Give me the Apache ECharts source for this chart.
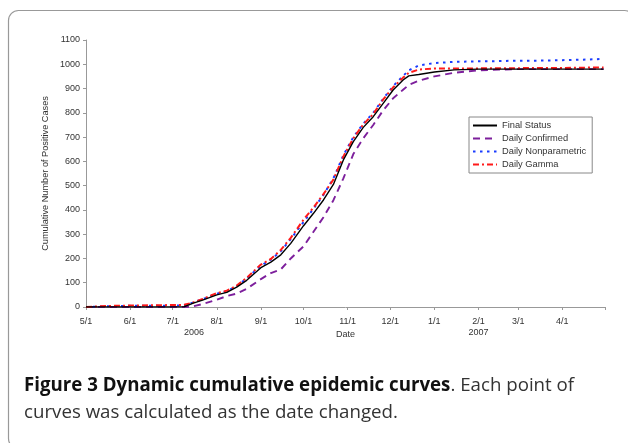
<!DOCTYPE html>
<html>
<head>
<meta charset="utf-8">
<script src="https://cdn.jsdelivr.net/npm/echarts@6/dist/echarts.min.js"></script>
<style>
html,body{margin:0;padding:0;background:#fff;}
#chart{width:628px;height:443px;}
</style>
</head>
<body>
<div id="chart"></div>
<script>
// ---- data ----
const dates = ['2006-05-01','2006-05-15','2006-06-01','2006-06-15','2006-07-01','2006-07-09','2006-07-15','2006-07-22',
  '2006-08-01','2006-08-08','2006-08-15','2006-08-22','2006-09-01','2006-09-08','2006-09-15','2006-09-22',
  '2006-10-01','2006-10-08','2006-10-15','2006-10-22','2006-10-29','2006-11-05','2006-11-12','2006-11-19',
  '2006-11-26','2006-12-03','2006-12-10','2006-12-14','2006-12-21','2007-01-01','2007-01-15','2007-02-01',
  '2007-02-15','2007-03-01','2007-03-15','2007-04-01','2007-04-15','2007-04-30'];
const finalStatus = [0,0,0,0,0,1,15,28, 50,60,82,110,162,185,215,262, 335,386,441,505,606,681,740,784,
  839,894,935,952,958,968,977,980, 980,980,980,980,980,980];
const dailyConfirmed = [0,0,0,0,0,0,2,12, 30,45,55,75,115,140,155,200, 250,310,370,440,530,630,695,750,
  810,860,895,915,932,950,965,975, 978,980,980,980,980,980];
const dailyNonparametric = [0,3,5,5,5,7,18,32, 55,65,86,118,170,195,230,280, 350,405,462,530,625,700,755,800,
  858,910,952,975,995,1005,1010,1012, 1013,1015,1015,1017,1019,1022];
const dailyGamma = [0,4,6,7,8,9,18,33, 57,67,88,120,175,198,235,285, 360,410,465,525,620,695,752,795,
  855,905,945,965,978,983,983,983, 984,984,985,985,986,987];
const seriesNames = ['Final Status','Daily Confirmed','Daily Nonparametric','Daily Gamma'];
const tickDates = ['2006-05-01','2006-06-01','2006-07-01','2006-08-01','2006-09-01','2006-10-01','2006-11-01',
  '2006-12-01','2007-01-01','2007-02-01','2007-03-01','2007-04-01','2007-05-01'];
const labelDates = ['2006-05-01','2006-06-01','2006-07-01','2006-07-16','2006-08-01','2006-09-01','2006-10-01','2006-11-01',
  '2006-12-01','2007-01-01','2007-02-01','2007-03-01','2007-04-01'];
const yearLabels = {'2006-07-16':'2006','2007-02-01':'2007'};
const yTicks = {min:0,max:1100,interval:100};

function ts(s){const p=s.split('-').map(Number);return Date.UTC(p[0],p[1]-1,p[2]);}
function pairs(vals){return dates.map((d,i)=>[ts(d),vals[i]]);}
const yearByTs = {};
Object.keys(yearLabels).forEach(k=>{yearByTs[ts(k)]=yearLabels[k];});

const chart = echarts.init(document.getElementById('chart'), null, {renderer:'canvas'});
const axisFont = 'Liberation Sans';
const option = {
  animation:false,
  backgroundColor:'#fff',
  grid:{left:86,right:23,top:40,bottom:136},
  xAxis:{
    type:'value',
    min:ts('2006-05-01'), max:ts('2007-05-01'),
    name:'Date', nameLocation:'middle', nameGap:23, nameMoveOverlap:false,
    nameTextStyle:{fontFamily:axisFont,fontSize:9,color:'#333'},
    splitLine:{show:false},
    axisLine:{lineStyle:{color:'#999',width:1}},
    axisTick:{show:true,length:3,lineStyle:{color:'#999'},customValues:tickDates.map(ts)},
    axisLabel:{fontFamily:axisFont,fontSize:9,color:'#333',margin:9,lineHeight:11,
      customValues:labelDates.map(ts),
      formatter:function(v){
        const d=new Date(v);
        const yr=yearByTs[v];
        if(d.getUTCDate()!==1) return '\n'+(yr||'');
        const m=(d.getUTCMonth()+1)+'/1';
        return yr? m+'\n'+yr : m;
      }}
  },
  yAxis:{
    type:'value', min:yTicks.min, max:yTicks.max, interval:yTicks.interval,
    name:'Cumulative Number of Positive Cases', nameLocation:'middle', nameGap:36, nameRotate:90, nameMoveOverlap:false,
    nameTextStyle:{fontFamily:axisFont,fontSize:9.2,color:'#333'},
    splitLine:{show:false},
    axisLine:{show:true,lineStyle:{color:'#999',width:1}},
    axisTick:{show:true,length:3,lineStyle:{color:'#999'}},
    axisLabel:{fontFamily:axisFont,fontSize:9,color:'#333',margin:6,formatter:function(v){return String(v);}}
  },
  legend:{
    orient:'vertical', left:469, top:117,
    padding:[4,6,4,3], itemGap:4, itemWidth:24, itemHeight:8,
    borderColor:'#888', borderWidth:1, backgroundColor:'#fff',
    itemStyle:{opacity:0},
    textStyle:{fontFamily:axisFont,fontSize:9.3,color:'#333'},
    data:seriesNames
  },
  series:[
    {name:seriesNames[0],type:'line',data:pairs(finalStatus),showSymbol:false,symbol:'none',z:5,
      lineStyle:{color:'#000',width:1.4,type:'solid'},itemStyle:{color:'#000'}},
    {name:seriesNames[1],type:'line',data:pairs(dailyConfirmed),showSymbol:false,symbol:'none',z:2,
      lineStyle:{color:'#7d1f9c',width:1.9,type:[7,5]},itemStyle:{color:'#7d1f9c'}},
    {name:seriesNames[2],type:'line',data:pairs(dailyNonparametric),showSymbol:false,symbol:'none',z:3,
      lineStyle:{color:'#1a3cff',width:2,type:[2.5,4.5]},itemStyle:{color:'#1a3cff'}},
    {name:seriesNames[3],type:'line',data:pairs(dailyGamma),showSymbol:false,symbol:'none',z:4,
      lineStyle:{color:'#ff1a1a',width:2,type:[6,3,2,3]},itemStyle:{color:'#ff1a1a'}}
  ],
  graphic:[
    {type:'rect',z:-1,silent:true,shape:{x:8.5,y:10.5,width:626,height:438,r:10},
      style:{fill:null,stroke:'#999',lineWidth:1.2}},
    {type:'text',left:24,top:376,silent:true,
      style:{
        text:'{b|Figure 3 Dynamic cumulative epidemic curves}{n|. Each point of}\n{n|curves was calculated as the date changed.}',
        rich:{
          b:{fontFamily:'Open Sans',fontWeight:'bold',fontSize:18.7,lineHeight:27,fill:'#111'},
          n:{fontFamily:'Open Sans',fontSize:18.7,lineHeight:27,fill:'#333'}
        }
      }}
  ]
};
chart.setOption(option);
</script>
</body>
</html>
